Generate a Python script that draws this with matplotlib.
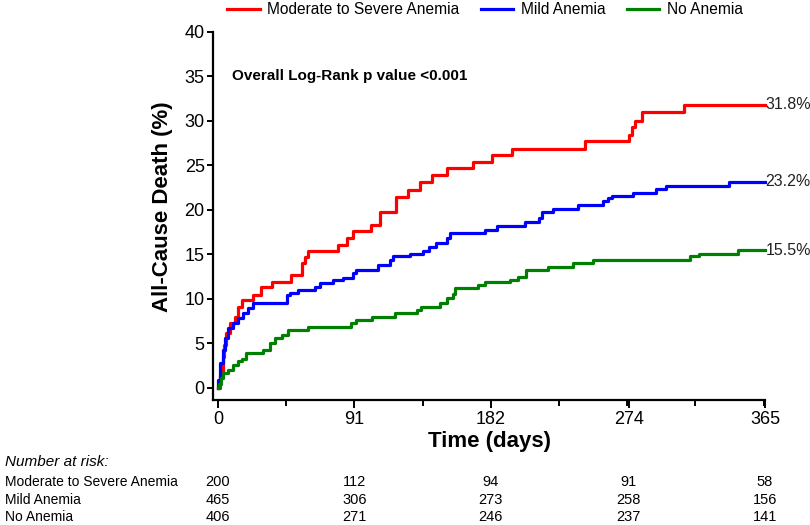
import matplotlib
matplotlib.use("Agg")
import matplotlib.pyplot as plt
import matplotlib.transforms as mtransforms
from matplotlib.ticker import MultipleLocator

plt.rcParams['font.family'] = ['Liberation Sans', 'DejaVu Sans']

# Cumulative incidence curves (days, %)
sev_days = [0, 1.5, 3.1, 4.2, 5.3, 8, 11.3, 13.5, 15.8, 23.6, 29, 36, 49, 56, 58, 60,
            80, 86, 90, 102, 108, 119, 127, 135, 143, 153, 170, 183, 196, 245,
            274, 276, 278, 283, 311, 365]
sev_pct = [0, 1.5, 3.5, 4.8, 6.2, 7.3, 8.0, 9.1, 9.9, 10.5, 11.3, 11.9, 12.7, 14.0, 14.7, 15.4,
           16.1, 16.9, 17.6, 18.3, 19.8, 21.5, 22.2, 23.1, 23.9, 24.7, 25.4, 26.2, 26.9, 27.7,
           28.4, 29.3, 30.0, 31.0, 31.8, 31.8]

mild_days = [0, 0.2, 1.3, 3.1, 4.7, 6.9, 10.2, 13.6, 16.9, 20, 23.6, 45.8, 48, 53.5, 64.7,
             68, 77, 83.5, 90, 92.4, 106.9, 114.7, 117, 128, 137, 141, 145.8, 152.5,
             154.7, 178, 186, 205, 214, 216, 223.5, 240, 257, 260, 263, 277, 292, 299,
             341, 365]
mild_pct = [0, 0.9, 2.8, 4.3, 5.6, 6.7, 7.3, 7.9, 8.4, 9.0, 9.5, 10.4, 10.7, 11.0, 11.4,
            11.8, 12.1, 12.4, 12.9, 13.3, 13.8, 14.4, 14.8, 15.1, 15.4, 15.8, 16.3, 16.8,
            17.4, 17.8, 18.2, 18.7, 19.1, 19.8, 20.1, 20.6, 21.0, 21.4, 21.6, 21.9, 22.4, 22.7,
            23.2, 23.2]

no_days = [0, 0.9, 1.8, 3.6, 6.9, 10.2, 13.6, 15.8, 19, 30, 34.7, 38, 42.5, 47, 60, 89,
           92.4, 102.5, 118, 132.5, 135.8, 148, 152.5, 157, 158, 173.5, 178, 194.7, 200,
           205.8, 220, 237, 250, 314.7, 321, 347, 365]
no_pct = [0, 0.5, 1.1, 1.7, 2.0, 2.6, 3.0, 3.3, 3.9, 4.3, 5.0, 5.6, 6.0, 6.5, 6.9, 7.3,
          7.6, 8.0, 8.4, 8.8, 9.1, 9.5, 10.1, 10.6, 11.2, 11.6, 11.9, 12.1, 12.5,
          13.3, 13.6, 14.0, 14.4, 14.8, 15.1, 15.5, 15.5]

groups = ['Moderate to Severe Anemia', 'Mild Anemia', 'No Anemia']
colors = ['#ff0000', '#0000ff', '#008000']
end_labels = ['31.8%', '23.2%', '15.5%']

# Number at risk table
risk_days = [0, 91, 182, 274, 365]
risk_sev = [200, 112, 94, 91, 58]
risk_mild = [465, 306, 273, 258, 156]
risk_no = [406, 271, 246, 237, 141]

fig = plt.figure(figsize=(8.1, 5.25), dpi=100)
ax = fig.add_axes([213 / 810, 1 - 400 / 525, (765 - 213) / 810, (400 - 32) / 525])

curves = [(sev_days, sev_pct), (mild_days, mild_pct), (no_days, no_pct)]
for (d, p), name, c, lab in zip(curves, groups, colors, end_labels):
    ax.step(d, p, where='post', color=c, lw=2.3, label=name, clip_on=False)
    ax.text(d[-1] + 0.5, p[-1], lab, fontsize=11.5, va='center', ha='left', color='#222222')

ax.set_xlim(-3.3, 365)
ax.set_ylim(-1.35, 40)
ax.set_xticks(risk_days)
ax.xaxis.set_minor_locator(MultipleLocator(45.5))
ax.set_yticks(range(0, 41, 5))
for s in ['top', 'right']:
    ax.spines[s].set_visible(False)
for s in ['left', 'bottom']:
    ax.spines[s].set_linewidth(1.6)
ax.tick_params(axis='x', which='major', length=6, width=1.4, labelsize=13, pad=2)
ax.tick_params(axis='x', which='minor', length=4, width=1.4)
ax.tick_params(axis='y', length=4, width=1.4, labelsize=13, pad=2)

ax.set_xlabel('Time (days)', fontsize=16, fontweight='bold', labelpad=2)
ax.set_ylabel('All-Cause Death (%)', fontsize=16, fontweight='bold')
ax.yaxis.set_label_coords(-0.0725, 0.524)

fig.text(232 / 810, 1 - 76 / 525, 'Overall Log-Rank p value <0.001', fontsize=11,
         fontweight='bold', va='center')

fig.legend(loc='center', bbox_to_anchor=(485 / 810, 1 - 10 / 525), ncol=3, frameon=False,
           fontsize=11.2, handlelength=2.1, columnspacing=1.35, handletextpad=0.5)

# Number at risk
trans = mtransforms.blended_transform_factory(ax.transData, fig.transFigure)
fig.text(5 / 810, 1 - 462 / 525, 'Number at risk:', fontsize=11, style='italic', va='center')
for row_y, name, vals in zip([482, 500, 517], groups, [risk_sev, risk_mild, risk_no]):
    fig.text(5 / 810, 1 - row_y / 525, name, fontsize=10, va='center')
    for d, v in zip(risk_days, vals):
        fig.text(d, 1 - row_y / 525, str(v), fontsize=10.5, va='center', ha='center',
                 transform=trans)

fig.savefig('out.png', dpi=100)
